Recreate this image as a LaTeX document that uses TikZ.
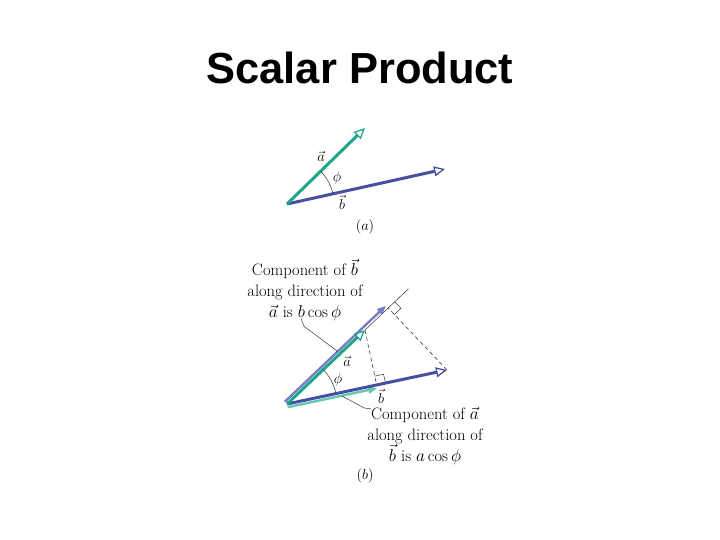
\documentclass[tikz,border=0pt]{standalone}
\usepackage{fontspec}
\newfontfamily\titlefont{Liberation Sans}
\usetikzlibrary{arrows.meta,calc}
\definecolor{vecA}{RGB}{30,165,140}
\definecolor{vecB}{RGB}{70,80,160}
\definecolor{projA}{RGB}{100,200,178}
\definecolor{projB}{RGB}{120,125,195}
\begin{document}
\begin{tikzpicture}[x=1pt,y=-1pt,
  vec/.style={line width=3pt,-{Triangle[open,length=11pt,width=10pt,line width=1.3pt]}},
  proj/.style={line width=2.4pt,-{Triangle[length=9pt,width=7pt]}},
  thinln/.style={line width=0.5pt,black!80},
  dashln/.style={line width=0.6pt,black!75,dash pattern=on 4pt off 3pt},
  lbl/.style={font=\fontsize{15}{17}\selectfont,inner sep=0pt},
  note/.style={font=\fontsize{16.5}{21}\selectfont,align=center,inner sep=0pt}]
\useasboundingbox (0,0) rectangle (720,540);
\node[font=\titlefont\bfseries\fontsize{43.5}{48}\selectfont] (title) at (360,68) {Scalar Product};

% ---------- (a)
\coordinate (Oa) at (287,204);
\coordinate (Aa) at (365,128);
\coordinate (Ba) at (445,169);
\draw[vec,vecB] (Oa) -- (Ba);
\draw[vec,vecA] (Oa) -- (Aa);
\draw[thinln] ($(Oa)!47pt!(Aa)$) arc[start angle=44.3,end angle=12.4,radius=47pt];
\node[lbl] (la) at (321,156) {$\vec{a}$};
\node[lbl] (lphia) at (337,178) {$\phi$};
\node[lbl] (lb) at (342,202) {$\vec{b}$};
\node[lbl] (capa) at (365,227) {$(a)$};

% ---------- (b)
\coordinate (O) at (287,404);
\coordinate (A) at (365,330);
\coordinate (B) at (447,370);
\coordinate (F1) at ($(O)!(B)!(A)$);
\coordinate (F2) at ($(O)!(A)!(B)$);
\coordinate (Ext) at ($(O)!1.2!(F1)$);
% thin extension line along a
\draw[thinln] (A) -- (Ext);
% dashed perpendiculars
\draw[dashln] (A) -- (F2);
\draw[dashln] (B) -- (F1);
% right angle marks
\draw[thinln] ($(F1)!9pt!(Ext)$) -- ($(F1)!9pt!(Ext)!9pt!90:(F1)$) -- ($(F1)!9pt!(B)$);
\draw[thinln] ($(F2)!9pt!(B)$) -- ($(F2)!9pt!(B)!9pt!-90:(F2)$) -- ($(F2)!9pt!(A)$);
% projections
\draw[proj,projB] ($(O)+(-2.2,-2.3)$) -- ($(F1)+(-2.2,-2.3)$);
\draw[proj,projA] ($(O)+(0.7,3.2)$) -- ($(F2)+(0.7,3.2)$);
% vectors
\draw[vec,vecB] (O) -- (B);
\draw[vec,vecA] (O) -- (A);
\draw[thinln] ($(O)!50pt!(A)$) arc[start angle=43.5,end angle=12,radius=50pt];
\node[lbl] (lab) at (347,361) {$\vec{a}$};
\node[lbl] (lphib) at (338,380) {$\phi$};
\node[lbl] (lbb) at (381,396) {$\vec{b}$};
\node[lbl] (capb) at (365,476) {$(b)$};

\node[note] (topnote) at (305,290) {Component of $\vec{b}$\\along direction of\\$\vec{a}$ is $b\cos\phi$};
\node[note] (botnote) at (425,436) {Component of $\vec{a}$\\along direction of\\$\vec{b}$ is $a\cos\phi$};
\draw[thinln] ([xshift=-4pt,yshift=3pt]topnote.south) -- ++(3,8) -- ($(O)!73pt!(A)+(-2.2,-2.3)$);
\draw[thinln] ([yshift=-2pt]botnote.north west) ++(4,0) -- ++(-7,-1) -- ($(O)!55pt!(F2)+(0.7,3.2)$);
\end{tikzpicture}
\end{document}
